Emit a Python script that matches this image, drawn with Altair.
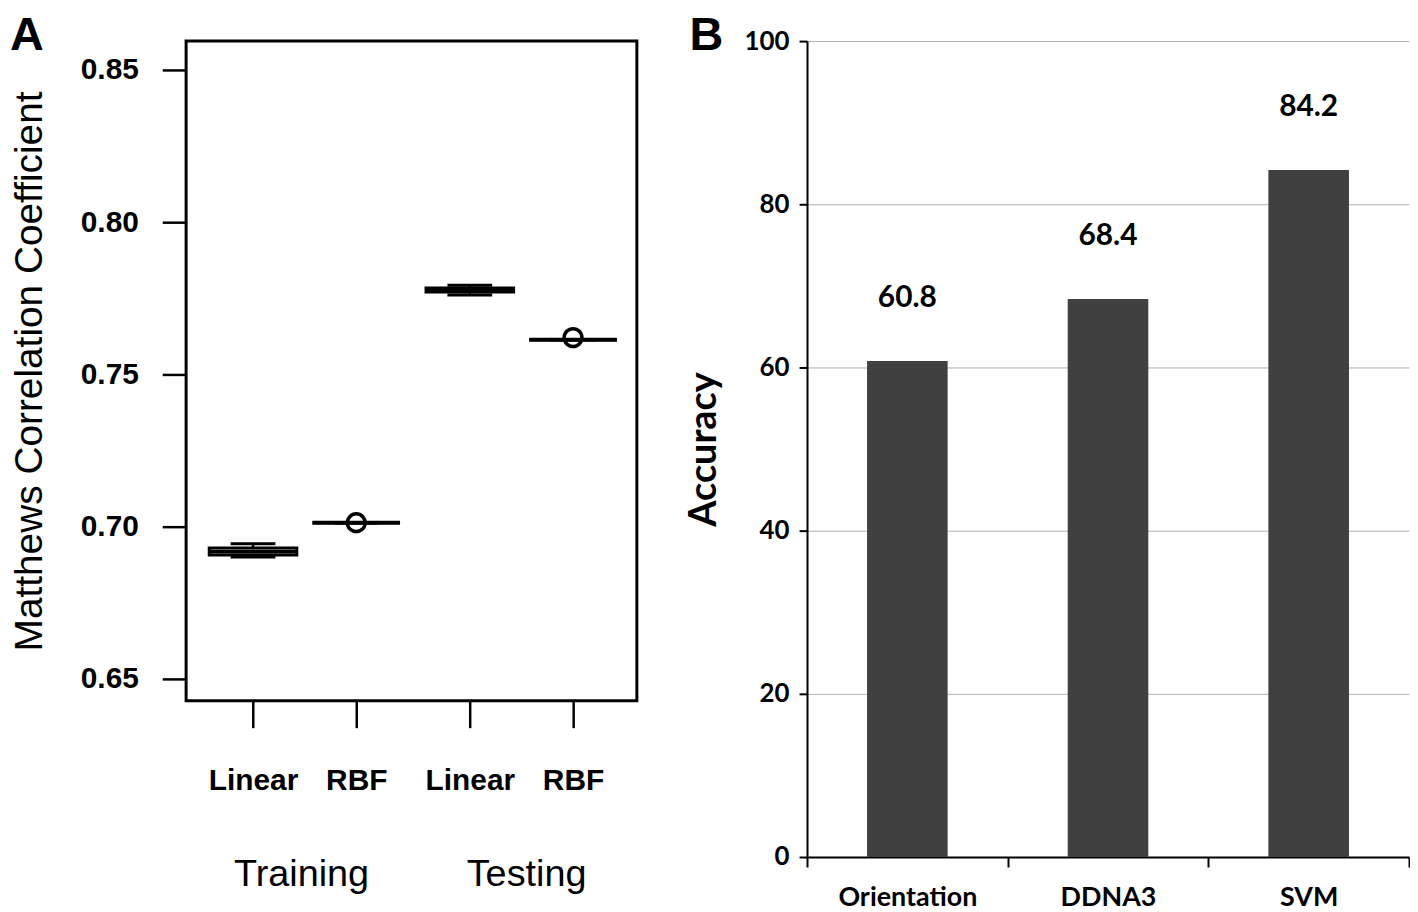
import altair as alt
import pandas as pd

# ---------------- Panel A data (box plot summaries) ----------------
a_groups = ["Training", "Training", "Testing", "Testing"]
a_kernels = ["Linear", "RBF", "Linear", "RBF"]
a_pos = [1.0, 2.0, 3.1, 4.1]
a_lower = [0.6900, 0.7013, 0.7761, 0.7614]
a_q1 = [0.6907, 0.7013, 0.7771, 0.7614]
a_med = [0.6918, 0.7013, 0.7778, 0.7614]
a_q3 = [0.6930, 0.7013, 0.7784, 0.7614]
a_upper = [0.6944, 0.7013, 0.7793, 0.7614]
a_out_pos = [2.0, 4.1]
a_out_val = [0.7013, 0.7621]
a_group_names = ["Training", "Testing"]
a_group_centers = [1.47, 3.65]
a_yticks = [0.65, 0.70, 0.75, 0.80, 0.85]

# ---------------- Panel B data (bars) ----------------
b_methods = ["Orientation", "DDNA3", "SVM"]
b_acc = [60.8, 68.4, 84.2]
b_yticks = [0, 20, 40, 60, 80, 100]

HELV = "Liberation Sans"
CAL = "Lato"

dfA = pd.DataFrame(dict(pos=a_pos, kernel=a_kernels, group=a_groups,
                        lower=a_lower, q1=a_q1, med=a_med, q3=a_q3, upper=a_upper))
dfA_out = pd.DataFrame(dict(pos=a_out_pos, val=a_out_val))
dfA_grp = pd.DataFrame(dict(pos=a_group_centers, name=a_group_names))

label_expr = "".join(f"datum.value == {p} ? '{k}' : " for p, k in zip(a_pos, a_kernels)) + "''"

xscaleA = alt.Scale(domain=[0.40, 4.67], nice=False, zero=False)
yscaleA = alt.Scale(domain=[0.6428, 0.8595], nice=False, zero=False)

xaxisA = alt.Axis(values=a_pos, labelExpr=label_expr, domain=False, grid=False,
                  tickSize=27, tickWidth=2.5, tickColor="black",
                  labelFont=HELV, labelFontWeight="bold", labelFontSize=30,
                  labelColor="black", labelPadding=38, title=None)
yaxisA = alt.Axis(values=a_yticks, format=".2f", domain=False, grid=False,
                  tickSize=24, tickWidth=2.5, tickColor="black",
                  labelFont=HELV, labelFontWeight="bold", labelFontSize=30,
                  labelColor="black", labelPadding=24,
                  title="Matthews Correlation Coefficient", titleFont=HELV,
                  titleFontWeight="normal", titleFontSize=39, titleColor="black",
                  titlePadding=31)

def xA(field):
    return alt.X(field, scale=xscaleA, axis=xaxisA)

def yA(field):
    return alt.Y(field, scale=yscaleA, axis=yaxisA)

whisk = alt.Chart(dfA).mark_rule(color="black", strokeWidth=2.5).encode(
    x=xA("pos:Q"), y=yA("lower:Q"), y2="upper:Q")
box = alt.Chart(dfA).mark_bar(size=88, fill="white", stroke="black", strokeWidth=3,
                              orient="vertical").encode(
    x=xA("pos:Q"), y=yA("q1:Q"), y2="q3:Q")
med = alt.Chart(dfA).mark_tick(orient="horizontal", size=88, thickness=4,
                               color="black", opacity=1).encode(x=xA("pos:Q"), y=yA("med:Q"))
stap_lo = alt.Chart(dfA).mark_tick(orient="horizontal", size=45, thickness=3,
                                   color="black", opacity=1).encode(x=xA("pos:Q"), y=yA("lower:Q"))
stap_hi = alt.Chart(dfA).mark_tick(orient="horizontal", size=45, thickness=3,
                                   color="black", opacity=1).encode(x=xA("pos:Q"), y=yA("upper:Q"))
outl = alt.Chart(dfA_out).mark_point(shape="circle", size=320, strokeWidth=3.5,
                                     filled=False, color="black", opacity=1).encode(
    x=xA("pos:Q"), y=yA("val:Q"))
grp = alt.Chart(dfA_grp).mark_text(font=HELV, fontSize=38, color="black",
                                   baseline="alphabetic", align="center").encode(
    x=xA("pos:Q"), y=alt.value(849), text="name:N")
letterA = alt.Chart(pd.DataFrame(dict(t=["A"]))).mark_text(
    font=HELV, fontSize=47, fontWeight="bold", color="black",
    align="left", baseline="top").encode(
    x=alt.value(-177), y=alt.value(-28), text="t:N")

panelA = alt.layer(whisk, box, med, stap_lo, stap_hi, outl, grp, letterA).properties(
    width=453, height=663,
    view=alt.ViewBackground(stroke="black", strokeWidth=3))

# ---------------- Panel B ----------------
dfB = pd.DataFrame(dict(method=b_methods, acc=b_acc))

xB = alt.X("method:N", sort=b_methods,
           scale=alt.Scale(paddingInner=0, paddingOuter=0),
           axis=alt.Axis(tickBand="extent", domain=True, domainColor="black",
                         domainWidth=2, tickSize=10, tickColor="black", tickWidth=2,
                         labelAngle=0, labelFont=CAL, labelFontWeight="bold",
                         labelFontSize=27, labelColor="black", labelPadding=18,
                         title=None, grid=False))
yB = alt.Y("acc:Q", scale=alt.Scale(domain=[0, 100], nice=False),
           axis=alt.Axis(values=b_yticks, grid=True, gridColor="#b0b0b0", gridWidth=1,
                         domain=True, domainColor="black", domainWidth=2,
                         tickSize=8, tickColor="black", tickWidth=2,
                         labelFont=CAL, labelFontWeight="bold", labelFontSize=26,
                         labelColor="black", labelPadding=10,
                         title="Accuracy", titleFont=CAL, titleFontWeight="bold",
                         titleFontSize=38, titleColor="black", titlePadding=21))

bars = alt.Chart(dfB).mark_bar(size=81, color="#404040").encode(x=xB, y=yB)
blabels = alt.Chart(dfB).mark_text(dy=-54, baseline="alphabetic", font=CAL,
                                   fontWeight="bold", fontSize=30, color="black").encode(
    x=xB, y=yB, text=alt.Text("acc:Q", format=".1f"))
letterB = alt.Chart(pd.DataFrame(dict(t=["B"]))).mark_text(
    font=HELV, fontSize=47, fontWeight="bold", color="black",
    align="left", baseline="top").encode(
    x=alt.value(-118), y=alt.value(-28), text="t:N")

panelB = alt.layer(bars, blabels, letterB).properties(width=605, height=820)

chart = alt.hconcat(panelA, panelB, spacing=171, bounds="flush").properties(
    padding=0, background="white").configure_view(strokeWidth=0)

chart.save("out.html", embed_options={"renderer": "svg", "actions": False})
